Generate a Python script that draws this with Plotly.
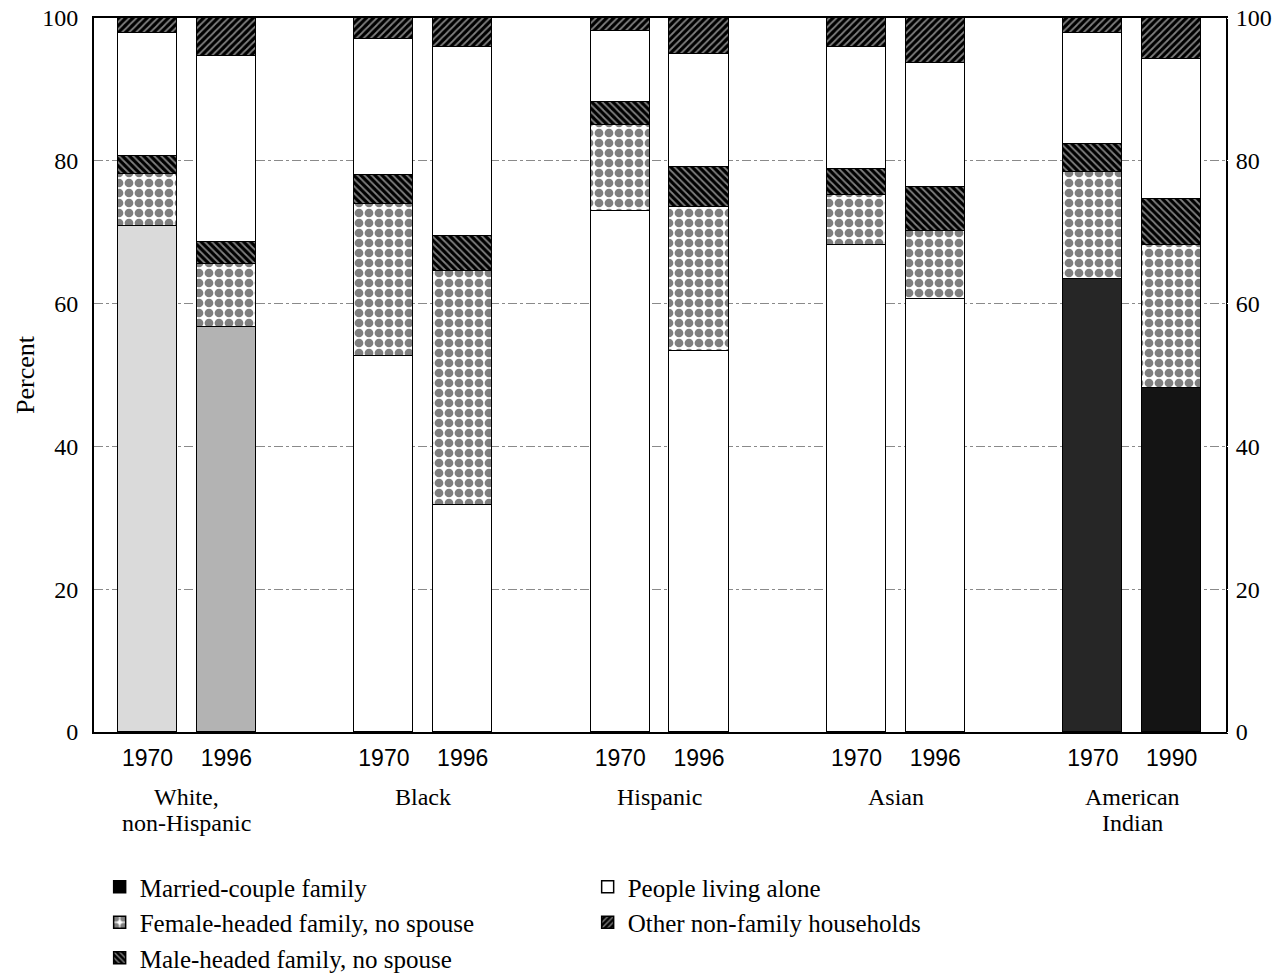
import plotly.graph_objects as go

# ---- data (percent of households) ----
bar_years = ["1970", "1996", "1970", "1996", "1970", "1996", "1970", "1996", "1970", "1990"]
bar_pos = [0, 1, 3, 4, 6, 7, 9, 10, 12, 13]
group_line1 = ["White,", "Black", "Hispanic", "Asian", "American"]
group_line2 = ["non-Hispanic", "", "", "", "Indian"]
group_pos = [0.5, 3.5, 6.5, 9.5, 12.5]

married = [70.8, 56.7, 52.7, 31.8, 73.0, 53.3, 68.2, 60.7, 63.5, 48.2]
female = [7.4, 8.9, 21.3, 32.7, 12.0, 20.3, 7.0, 9.5, 15.0, 20.0]
male = [2.5, 3.0, 4.0, 4.9, 3.3, 5.6, 3.6, 6.1, 3.9, 6.4]
alone = [17.2, 26.1, 19.1, 26.5, 9.9, 15.8, 17.1, 17.4, 15.5, 19.6]
other = [2.1, 5.3, 2.9, 4.1, 1.8, 5.0, 4.1, 6.3, 2.1, 5.8]

# scanned shading of the married-couple segments
married_colors = ["#dadada", "#b3b3b3", "#ffffff", "#ffffff", "#ffffff",
                  "#ffffff", "#ffffff", "#ffffff", "#262626", "#141414"]

serif = "Liberation Serif"
sans = "Liberation Sans"
outline = dict(color="black", width=1.5)

fig = go.Figure()
fig.add_trace(go.Bar(x=bar_pos, y=married, width=0.75, name="Married-couple family",
                     marker=dict(color=married_colors, line=outline),
                     showlegend=False, legendrank=1))
fig.add_trace(go.Bar(x=bar_pos, y=female, width=0.75, name="Female-headed family, no spouse",
                     marker=dict(color="white", line=outline,
                                 pattern=dict(shape=".", fgcolor="black", bgcolor="white",
                                              size=10, solidity=0.6)),
                     legendrank=3))
fig.add_trace(go.Bar(x=bar_pos, y=male, width=0.75, name="Male-headed family, no spouse",
                     marker=dict(color="black", line=outline,
                                 pattern=dict(shape="\\", fgcolor="white", bgcolor="black",
                                              size=5, solidity=0.35)),
                     legendrank=5))
fig.add_trace(go.Bar(x=bar_pos, y=alone, width=0.75, name="People living alone",
                     marker=dict(color="white", line=outline),
                     legendrank=2))
fig.add_trace(go.Bar(x=bar_pos, y=other, width=0.75, name="Other non-family households",
                     marker=dict(color="black", line=outline,
                                 pattern=dict(shape="/", fgcolor="white", bgcolor="black",
                                              size=5, solidity=0.35)),
                     legendrank=4))
# legend-only entry for married-couple family (solid black)
fig.add_trace(go.Bar(x=[None], y=[None], name="Married-couple family",
                     marker=dict(color="black", line=outline), legendrank=1))
# invisible trace on the right axis
fig.add_trace(go.Scatter(x=[bar_pos[0]], y=[0], yaxis="y2", mode="markers",
                         marker=dict(opacity=0), showlegend=False, hoverinfo="skip"))

for l1, l2, p in zip(group_line1, group_line2, group_pos):
    fig.add_annotation(x=p, y=-0.091, xref="x", yref="paper", text=l1, showarrow=False,
                       yanchor="middle", font=dict(family=serif, size=24, color="black"))
    if l2:
        fig.add_annotation(x=p, y=-0.127, xref="x", yref="paper", text=l2, showarrow=False,
                           yanchor="middle", font=dict(family=serif, size=24, color="black"))

fig.update_layout(
    width=1280, height=974,
    barmode="stack", bargap=0,
    plot_bgcolor="white", paper_bgcolor="white",
    margin=dict(l=94, r=54, t=18, b=242, autoexpand=False),
    xaxis=dict(range=[-0.68, 13.69], tickvals=bar_pos, ticktext=bar_years,
               tickfont=dict(family=sans, size=23, color="black"), automargin=False,
               showline=True, linecolor="black", linewidth=2, mirror=True,
               showgrid=False, zeroline=False, ticks="outside", ticklen=4, tickcolor="white"),
    yaxis=dict(range=[0, 100], tickvals=[0, 20, 40, 60, 80, 100], automargin=False,
               tickfont=dict(family=serif, size=24, color="black"),
               title=dict(text="Percent", font=dict(family=serif, size=26, color="black"),
                          standoff=0),
               showline=True, linecolor="black", linewidth=2, mirror=True,
               showgrid=True, gridcolor="#8a8a8a", griddash="dashdot", gridwidth=1,
               zeroline=False, ticks="outside", ticklen=9, tickcolor="white"),
    yaxis2=dict(range=[0, 100], tickvals=[0, 20, 40, 60, 80, 100], overlaying="y",
                side="right", tickfont=dict(family=serif, size=24, color="black"),
                automargin=False,
                showgrid=False, zeroline=False, ticks="outside", ticklen=4, tickcolor="white"),
    legend=dict(orientation="h", x=0.005, y=-0.185, xanchor="left", yanchor="top",
                entrywidth=443, entrywidthmode="pixels",
                font=dict(family=serif, size=25, color="black"),
                traceorder="normal"),
    showlegend=True,
)

fig.write_html("out.html", config={"displayModeBar": False},
               post_script="document.body.style.margin='0px';")
